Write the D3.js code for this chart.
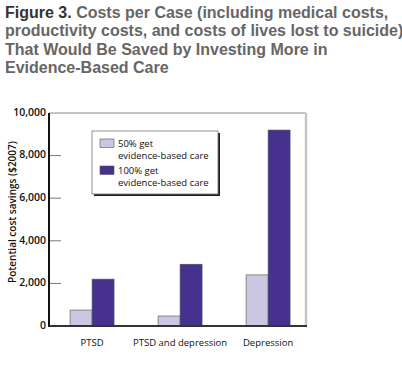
<!DOCTYPE html>
<html>
<head>
<meta charset="utf-8">
<script src="https://cdn.jsdelivr.net/npm/d3@7/dist/d3.min.js"></script>
<style>
  html, body { margin: 0; padding: 0; background: #fff; }
  svg { display: block; }
</style>
</head>
<body>
<svg id="chart" width="402" height="369"></svg>
<script>
const categories = ["PTSD", "PTSD and depression", "Depression"];
const seriesNames = ["50% get evidence-based care", "100% get evidence-based care"];
const legendLines = [["50% get", "evidence-based care"], ["100% get", "evidence-based care"]];
const values50 = [750, 470, 2400];
const values100 = [2200, 2900, 9200];
const yTicks = [0, 2000, 4000, 6000, 8000, 10000];
const titleLead = "Figure 3.";
const titleLines = [" Costs per Case (including medical costs,", "productivity costs, and costs of lives lost to suicide)", "That Would Be Saved by Investing More in", "Evidence-Based Care"];
const yLabel = "Potential cost savings ($2007)";

const colors = ["#cbc6e2", "#46318f"];
const svg = d3.select("#chart");
const font = "'Open Sans', sans-serif";

// Title
const title = svg.append("g").attr("font-family", "'Liberation Sans', Arial, sans-serif")
  .attr("font-weight", "bold").attr("font-size", 16);
titleLines.forEach((line, i) => {
  const t = title.append("text").attr("x", 5).attr("y", 18 + i * 18.3).attr("fill", "#666");
  if (i === 0) t.append("tspan").attr("fill", "#333").text(titleLead);
  t.append("tspan").text(line);
});

const pL = 49, pR = 306, pT = 113, pB = 326;
const x = d3.scaleBand().domain(categories).range([pL, pR])
  .paddingInner(0.5).paddingOuter(0.21).align(0.57);
const y = d3.scaleLinear().domain([0, 10000]).range([pB, pT]);

// frame
svg.append("line").attr("x1", pL).attr("x2", pR).attr("y1", pT).attr("y2", pT)
  .attr("stroke", "#8a8a8a").attr("stroke-width", 1);
svg.append("line").attr("x1", pR).attr("x2", pR).attr("y1", pT).attr("y2", pB)
  .attr("stroke", "#c4c4c4").attr("stroke-width", 2.5);

// bars
const data = categories.map((c, i) => ({c, v: [values50[i], values100[i]]}));
const half = x.bandwidth() / 2;
const g = svg.append("g");
data.forEach(d => {
  d.v.forEach((v, j) => {
    g.append("rect")
      .attr("x", x(d.c) + j * half)
      .attr("y", y(v))
      .attr("width", half)
      .attr("height", y(0) - y(v))
      .attr("fill", colors[j])
      .attr("stroke", "#555").attr("stroke-width", 0.6);
  });
});

// y axis
const yAxis = d3.axisLeft(y).tickValues(yTicks).tickFormat(d3.format(",")).tickSize(0).tickPadding(3);
const ya = svg.append("g").attr("transform", `translate(${pL},-1)`).call(yAxis);
ya.select(".domain").remove();
ya.selectAll("text").attr("font-family", font).attr("font-size", 10.5).attr("font-weight", 600).attr("fill", "#111");
// inward tick marks
svg.append("g").selectAll("line").data(yTicks.filter(t => t > 0 && t < 10000)).join("line")
  .attr("x1", pL).attr("x2", pL + 12).attr("y1", d => y(d)).attr("y2", d => y(d))
  .attr("stroke", "#777").attr("stroke-width", 1);
svg.append("line").attr("x1", pL).attr("x2", pL).attr("y1", pT).attr("y2", pB + 1)
  .attr("stroke", "#111").attr("stroke-width", 2);

// x axis
const xAxis = d3.axisBottom(x).tickSize(0).tickPadding(13);
const xa = svg.append("g").attr("transform", `translate(0,${pB})`).call(xAxis);
xa.select(".domain").remove();
xa.selectAll("text").attr("font-family", font).attr("font-size", 9.5).attr("fill", "#111");
svg.append("line").attr("x1", pL).attr("x2", pR + 1).attr("y1", pB).attr("y2", pB)
  .attr("stroke", "#333").attr("stroke-width", 2);

// y label
svg.append("text").attr("transform", `translate(16,212) rotate(-90)`)
  .attr("text-anchor", "middle").attr("font-family", font).attr("font-size", 10)
  .attr("font-weight", 600).attr("fill", "#111").text(yLabel);

// legend
const lg = svg.append("g");
const lx = 92, ly = 131, lw = 126, lh = 63;
lg.append("rect").attr("x", lx + 2).attr("y", ly + 2).attr("width", lw).attr("height", lh).attr("fill", "#222");
lg.append("rect").attr("x", lx).attr("y", ly).attr("width", lw).attr("height", lh)
  .attr("fill", "#fff").attr("stroke", "#777").attr("stroke-width", 0.8);
legendLines.forEach((lines, i) => {
  const yy = ly + 8 + i * 27;
  lg.append("rect").attr("x", lx + 8).attr("y", yy).attr("width", 14).attr("height", 8.5)
    .attr("fill", colors[i]).attr("stroke", "#555").attr("stroke-width", 0.6);
  lines.forEach((l, k) => {
    lg.append("text").attr("x", lx + 26).attr("y", yy + 8 + k * 11.5)
      .attr("font-family", font).attr("font-size", 9.5).attr("fill", "#111").text(l);
  });
});
</script>
</body>
</html>
